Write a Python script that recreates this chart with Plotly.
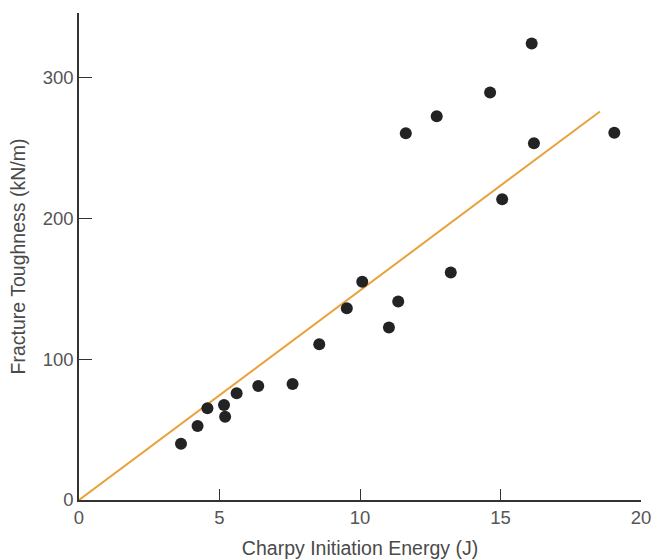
import plotly.graph_objects as go

energy = [3.63, 4.22, 4.57, 5.16, 5.2, 5.61, 6.38, 7.6, 8.55, 9.53, 10.08,
          11.03, 11.36, 13.23, 15.06, 11.63, 12.73, 14.63, 16.11, 16.19, 19.05]
toughness = [40, 52.6, 65.2, 67.5, 59.2, 75.8, 81, 82.4, 110.7, 136.2, 155,
             122.5, 141, 161.6, 213.7, 260.6, 272.7, 289.5, 324.3, 253.5, 261]

fit_x = [0, 18.54]
fit_y = [0, 276]

x_ticks = [0, 5, 10, 15, 20]
y_ticks = [0, 100, 200, 300]

font = "Liberation Sans, Arial, sans-serif"
fig = go.Figure()
fig.add_trace(go.Scatter(x=fit_x, y=fit_y, mode="lines",
                         line=dict(color="#E9A23B", width=2), showlegend=False))
fig.add_trace(go.Scatter(x=energy, y=toughness, mode="markers",
                         marker=dict(color="#232323", size=12), showlegend=False))

fig.update_layout(
    width=655, height=560,
    margin=dict(l=79, r=14, t=13, b=60),
    paper_bgcolor="white", plot_bgcolor="white",
    font=dict(family=font, color="#444444", size=18),
    xaxis=dict(range=[0, 20], tickvals=x_ticks, ticks="inside", ticklen=11,
               tickwidth=1.2, tickcolor="#333", showline=True, linecolor="#333",
               linewidth=1.5, showgrid=False, zeroline=False, automargin=False,
               title=dict(text="Charpy Initiation Energy (J)", standoff=14,
                          font=dict(size=19.5, color="#4a4a4a")),
               tickfont=dict(size=18.5, color="#555")),
    yaxis=dict(range=[0, 346], tickvals=y_ticks, ticks="inside", ticklen=13,
               tickwidth=1.2, tickcolor="#333", showline=True, linecolor="#333",
               linewidth=1.5, showgrid=False, zeroline=False, automargin=False,
               title=dict(text="Fracture Toughness (kN/m)", standoff=12,
                          font=dict(size=19.5, color="#4a4a4a")),
               tickfont=dict(size=18.5, color="#555")),
)
fig.write_html("out.html")
